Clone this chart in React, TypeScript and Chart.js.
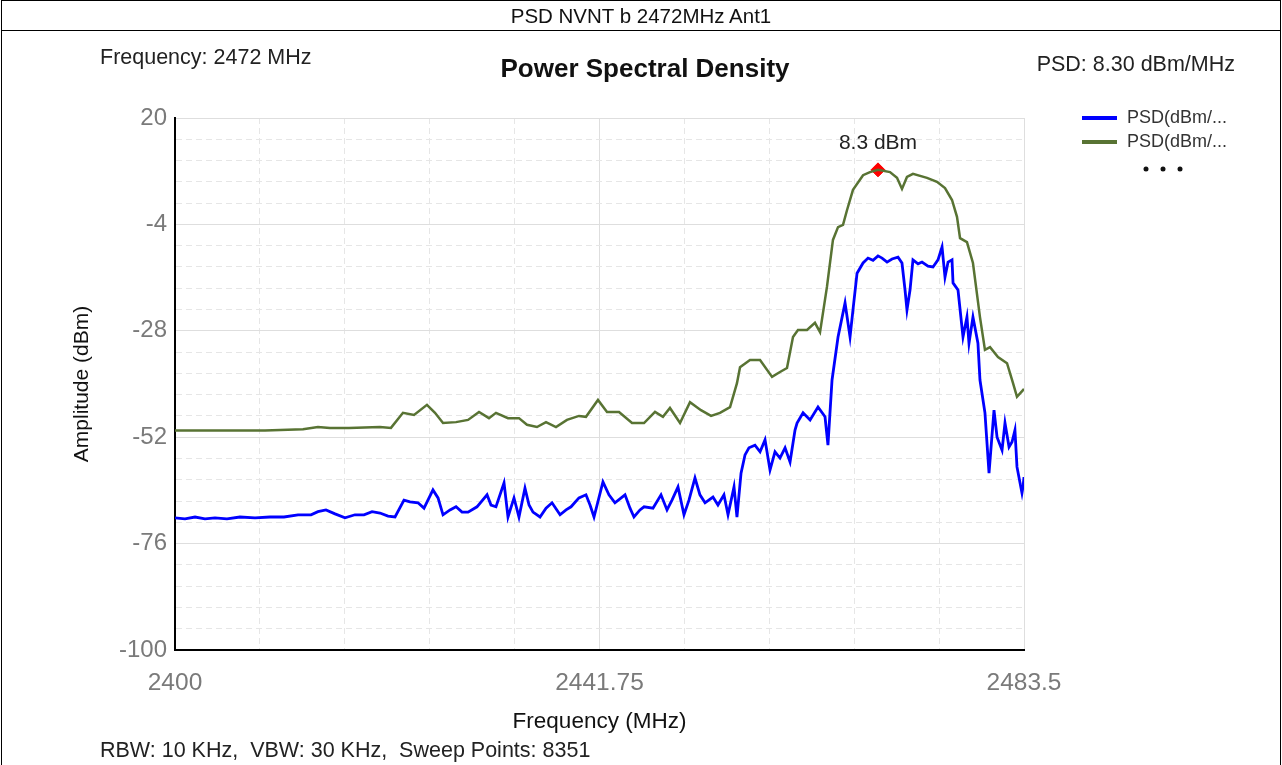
import React, { useEffect, useRef } from 'react';
import { Chart, registerables } from 'chart.js';

Chart.register(...registerables);

// ---------- texts ----------
const headerTitle = 'PSD NVNT b 2472MHz Ant1';
const chartTitle = 'Power Spectral Density';
const topLeftNote = 'Frequency: 2472 MHz';
const topRightNote = 'PSD: 8.30 dBm/MHz';
const bottomNote = 'RBW: 10 KHz,  VBW: 30 KHz,  Sweep Points: 8351';
const xAxisTitle = 'Frequency (MHz)';
const yAxisTitle = 'Amplitude (dBm)';
const seriesNames = ['PSD(dBm/...', 'PSD(dBm/...'];

// ---------- axes ----------
const xGridValues = [2400, 2408.35, 2416.7, 2425.05, 2433.4, 2441.75, 2450.1, 2458.45, 2466.8, 2475.15, 2483.5];
const xLabelValues = [2400, 2441.75, 2483.5];
const yGridValues = [-100, -95.2, -90.4, -85.6, -80.8, -76, -71.2, -66.4, -61.6, -56.8, -52, -47.2, -42.4, -37.6, -32.8, -28, -23.2, -18.4, -13.6, -8.8, -4, 0.8, 5.6, 10.4, 15.2, 20];
const yLabelValues = [-100, -76, -52, -28, -4, 20];

// ---------- series: max hold (green) ----------
const maxHoldFreq = [
  2400.00, 2408.85, 2412.59, 2414.06, 2415.24, 2417.11, 2420.16, 2421.24, 2422.42, 2423.51,
  2424.78, 2425.57, 2426.36, 2427.64, 2428.82, 2429.90, 2430.88, 2431.57, 2432.75, 2433.83,
  2434.62, 2435.60, 2436.49, 2437.47, 2438.55, 2439.73, 2440.42, 2441.60, 2442.49, 2443.67,
  2444.95, 2446.13, 2447.21, 2447.99, 2448.68, 2449.67, 2450.65, 2451.73, 2452.72, 2453.60,
  2454.59, 2455.27, 2455.57, 2456.55, 2457.54, 2458.72, 2459.50, 2460.19, 2460.78, 2461.27,
  2462.16, 2462.94, 2463.44, 2464.12, 2464.71, 2465.21, 2465.70, 2466.09, 2466.68, 2467.67,
  2468.35, 2469.14, 2470.32, 2471.01, 2471.50, 2471.99, 2472.58, 2473.96, 2474.94, 2475.73,
  2476.42, 2476.91, 2477.21, 2477.89, 2478.48, 2479.17, 2479.66, 2480.16, 2480.94, 2481.83,
  2482.42, 2482.81, 2483.40, 2483.50,
];
const maxHoldDb = [
  -50.5, -50.5, -50.2, -49.7, -49.9, -49.9, -49.7, -49.9, -46.5, -47.0,
  -44.7, -46.5, -48.8, -48.6, -48.1, -46.3, -47.7, -46.5, -47.7, -47.7,
  -49.2, -49.7, -48.6, -49.7, -48.1, -47.2, -47.4, -43.6, -46.3, -46.3,
  -48.8, -48.8, -46.3, -47.4, -45.4, -48.8, -44.1, -45.9, -47.2, -46.5,
  -45.2, -39.8, -36.2, -34.6, -34.6, -38.4, -37.3, -36.4, -29.4, -27.8,
  -27.8, -26.2, -28.3, -18.1, -7.5, -4.6, -4.1, -0.8, 3.8, 7.1,
  7.8, 8.3, 7.8, 6.5, 4.0, 6.7, 7.4, 6.5, 5.6, 4.2,
  1.5, -2.3, -7.1, -8.0, -12.7, -24.9, -32.3, -31.7, -33.9, -35.3,
  -39.8, -42.9, -41.4, -41.1,
];

// ---------- series: average (blue) ----------
const avgFreq = [
  2400.00, 2400.98, 2401.97, 2402.95, 2403.93, 2405.11, 2406.39, 2407.87, 2409.34, 2410.72,
  2412.10, 2413.38, 2414.06, 2414.85, 2415.74, 2416.72, 2417.70, 2418.59, 2419.38, 2420.16,
  2420.95, 2421.64, 2422.52, 2423.11, 2423.90, 2424.49, 2425.37, 2425.87, 2426.36, 2427.05,
  2427.64, 2428.23, 2428.82, 2429.70, 2430.69, 2431.08, 2431.57, 2432.36, 2432.75, 2433.34,
  2433.83, 2434.42, 2434.82, 2435.21, 2435.90, 2436.49, 2437.08, 2437.87, 2438.46, 2438.95,
  2439.73, 2440.42, 2440.82, 2441.21, 2442.09, 2442.68, 2443.27, 2444.26, 2444.75, 2445.14,
  2445.73, 2446.13, 2447.01, 2447.80, 2448.39, 2448.88, 2449.47, 2450.06, 2450.55, 2451.14,
  2451.63, 2452.13, 2452.91, 2453.40, 2453.99, 2454.39, 2454.98, 2455.27, 2455.67, 2456.06,
  2456.45, 2457.04, 2457.54, 2458.03, 2458.52, 2459.01, 2459.50, 2460.00, 2460.49, 2460.98,
  2461.18, 2461.77, 2462.46, 2463.24, 2463.93, 2464.22, 2464.62, 2465.21, 2465.90, 2466.39,
  2466.68, 2467.08, 2467.67, 2468.16, 2468.65, 2469.14, 2469.54, 2470.03, 2470.52, 2471.11,
  2471.50, 2471.80, 2471.99, 2472.29, 2472.58, 2473.08, 2473.47, 2474.06, 2474.55, 2475.04,
  2475.44, 2475.73, 2476.03, 2476.42, 2476.52, 2477.01, 2477.50, 2477.89, 2478.09, 2478.48,
  2478.97, 2479.17, 2479.66, 2480.06, 2480.55, 2480.85, 2481.34, 2481.63, 2482.03, 2482.32,
  2482.61, 2482.81, 2483.30, 2483.40, 2483.50,
];
const avgDb = [
  -70.2, -70.4, -70.0, -70.4, -70.2, -70.4, -70.0, -70.2, -70.0, -70.0,
  -69.5, -69.5, -68.8, -68.4, -69.3, -70.2, -69.5, -69.5, -68.8, -69.1,
  -69.8, -70.0, -66.2, -66.6, -66.8, -68.0, -63.9, -65.7, -69.5, -68.4,
  -67.7, -68.9, -68.9, -67.7, -65.0, -67.3, -67.7, -62.3, -70.0, -65.7,
  -70.0, -63.5, -67.3, -68.9, -70.0, -68.0, -66.8, -69.5, -68.4, -67.7,
  -65.7, -65.0, -67.3, -70.0, -62.1, -65.0, -66.8, -65.0, -68.0, -70.0,
  -68.4, -67.7, -68.0, -65.0, -68.4, -66.2, -63.2, -69.5, -66.2, -61.2,
  -65.0, -66.8, -65.5, -67.3, -65.0, -69.5, -63.2, -70.0, -60.1, -56.0,
  -54.4, -53.8, -55.3, -52.6, -59.4, -55.3, -56.7, -54.4, -57.6, -50.4,
  -48.8, -46.5, -48.1, -45.2, -47.4, -53.8, -39.1, -29.4, -21.7, -29.4,
  -23.3, -15.0, -12.7, -11.6, -12.1, -11.1, -11.6, -12.5, -11.8, -11.4,
  -12.7, -18.8, -23.3, -18.8, -12.0, -12.9, -12.5, -13.4, -13.6, -12.0,
  -9.1, -15.9, -12.5, -12.0, -17.2, -18.8, -29.4, -24.9, -30.8, -24.9,
  -30.8, -39.1, -46.5, -60.1, -45.9, -52.0, -54.9, -48.8, -54.2, -53.1,
  -50.4, -58.7, -64.6, -63.2, -61.0,
];

// ---------- peak marker ----------
const peakFreq = [2469.14];
const peakDb = [8.3];

const blueColor = '#0000ff';
const greenColor = '#587333';
const FONT = '"Liberation Sans", Arial, sans-serif';

const toPoints = (xs: number[], ys: number[]) => xs.map((x, i) => ({ x, y: ys[i] }));
const has = (arr: number[], v: number) => arr.some((a) => Math.abs(a - v) < 1e-6);

const overlayPlugin = {
  id: 'overlay',
  afterDraw(chart: any) {
    const ctx = chart.ctx as CanvasRenderingContext2D;
    ctx.save();
    // chart title
    ctx.fillStyle = '#111';
    ctx.textBaseline = 'middle';
    ctx.textAlign = 'center';
    ctx.font = `bold 26px ${FONT}`;
    ctx.fillText(chartTitle, 645, 70);
    // side notes
    ctx.font = `21.5px ${FONT}`;
    ctx.fillStyle = '#222';
    ctx.textAlign = 'left';
    ctx.fillText(topLeftNote, 100, 58);
    ctx.textAlign = 'right';
    ctx.fillText(topRightNote, 1235, 65);
    ctx.textAlign = 'left';
    ctx.fillText(bottomNote, 100, 751);

    // legend
    const ds = chart.data.datasets;
    const legendRows = [118, 142];
    for (let i = 0; i < 2; i++) {
      const y = legendRows[i];
      ctx.strokeStyle = ds[i].borderColor;
      ctx.lineWidth = 4;
      ctx.beginPath();
      ctx.moveTo(1082, y);
      ctx.lineTo(1117, y);
      ctx.stroke();
      ctx.fillStyle = '#333';
      ctx.font = `18px ${FONT}`;
      ctx.textAlign = 'left';
      ctx.fillText(seriesNames[i], 1127, y);
    }
    ctx.fillStyle = '#111';
    [1146, 1163, 1180].forEach((x) => {
      ctx.beginPath();
      ctx.arc(x, 169, 2.5, 0, Math.PI * 2);
      ctx.fill();
    });

    // peak label
    const meta = chart.getDatasetMeta(2);
    const pt = meta.data[0];
    if (pt) {
      ctx.fillStyle = '#222';
      ctx.font = `21px ${FONT}`;
      ctx.textAlign = 'center';
      ctx.fillText(`${peakDb[0]} dBm`, pt.x, pt.y - 27);
    }
    ctx.restore();
  },
};

export default function App() {
  const canvasRef = useRef<HTMLCanvasElement | null>(null);

  useEffect(() => {
    if (!canvasRef.current) return;
    const gridColor = (labels: number[]) => (c: any) =>
      c.tick && has(labels, c.tick.value) ? '#dedede' : '#e6e6e6';
    const gridDash = (labels: number[]) => (c: any) =>
      c.tick && !has(labels, c.tick.value) ? [6, 4] : [];

    const chart = new Chart(canvasRef.current, {
      type: 'line',
      data: {
        datasets: [
          {
            label: seriesNames[0],
            data: toPoints(avgFreq, avgDb),
            borderColor: blueColor,
            backgroundColor: blueColor,
            borderWidth: 2.8,
            pointRadius: 0,
            tension: 0,
          },
          {
            label: seriesNames[1],
            data: toPoints(maxHoldFreq, maxHoldDb),
            borderColor: greenColor,
            backgroundColor: greenColor,
            borderWidth: 2.5,
            pointRadius: 0,
            tension: 0,
          },
          {
            label: 'peak',
            data: toPoints(peakFreq, peakDb),
            borderColor: '#ff0000',
            backgroundColor: '#ff0000',
            showLine: false,
            pointStyle: 'rectRot',
            pointRadius: 7,
            borderWidth: 1,
          },
        ],
      },
      options: {
        responsive: false,
        animation: false,
        devicePixelRatio: 1,
        layout: { padding: { left: 0, top: 118, right: 258, bottom: 0 } },
        plugins: {
          legend: { display: false },
          title: { display: false },
          tooltip: { enabled: false },
        },
        scales: {
          x: {
            type: 'linear',
            min: 2400,
            max: 2483.5,
            afterBuildTicks: (s: any) => {
              s.ticks = xGridValues.map((v) => ({ value: v }));
            },
            afterFit: (s: any) => {
              s.height = 115;
            },
            ticks: {
              autoSkip: false,
              maxRotation: 0,
              padding: 19,
              color: '#7a7a7a',
              font: { family: FONT, size: 24.5 },
              callback: (v: any) => (has(xLabelValues, Number(v)) ? String(Number(v)) : ''),
            },
            grid: { color: gridColor(xLabelValues), lineWidth: 1, drawTicks: false },
            border: { display: true, color: '#000', width: 2, dash: gridDash(xLabelValues) },
            title: {
              display: true,
              text: xAxisTitle,
              color: '#111',
              font: { family: FONT, size: 22.5 },
              padding: { top: 0, bottom: 30 },
            },
          },
          y: {
            type: 'linear',
            min: -100,
            max: 20,
            afterBuildTicks: (s: any) => {
              s.ticks = yGridValues.map((v) => ({ value: v }));
            },
            afterFit: (s: any) => {
              s.width = 175;
            },
            ticks: {
              autoSkip: false,
              padding: 8,
              color: '#7a7a7a',
              font: { family: FONT, size: 24 },
              callback: (v: any) => (has(yLabelValues, Number(v)) ? String(Number(v)) : ''),
            },
            grid: { color: gridColor(yLabelValues), lineWidth: 1, drawTicks: false },
            border: { display: true, color: '#000', width: 2, dash: gridDash(yLabelValues) },
            title: {
              display: true,
              text: yAxisTitle,
              color: '#111',
              font: { family: FONT, size: 21 },
              padding: { top: 70, bottom: 0 },
            },
          },
        },
      },
      plugins: [overlayPlugin],
    } as any);
    return () => chart.destroy();
  }, []);

  return (
    <div style={{ position: 'absolute', left: 0, top: 0, width: 1282, height: 765, background: '#fff', overflow: 'hidden' }}>
      <canvas ref={canvasRef} width={1282} height={765} style={{ position: 'absolute', left: 0, top: 0 }} />
      <div
        style={{
          position: 'absolute',
          left: 1,
          top: 0,
          width: 1280,
          height: 765,
          boxSizing: 'border-box',
          borderTop: '1px solid #000',
          borderLeft: '1px solid #000',
          borderRight: '1px solid #000',
          pointerEvents: 'none',
        }}
      >
        <div
          style={{
            height: 29,
            borderBottom: '1px solid #000',
            textAlign: 'center',
            fontFamily: FONT,
            fontSize: 20.5,
            lineHeight: '29px',
            color: '#111',
          }}
        >
          {headerTitle}
        </div>
      </div>
    </div>
  );
}
